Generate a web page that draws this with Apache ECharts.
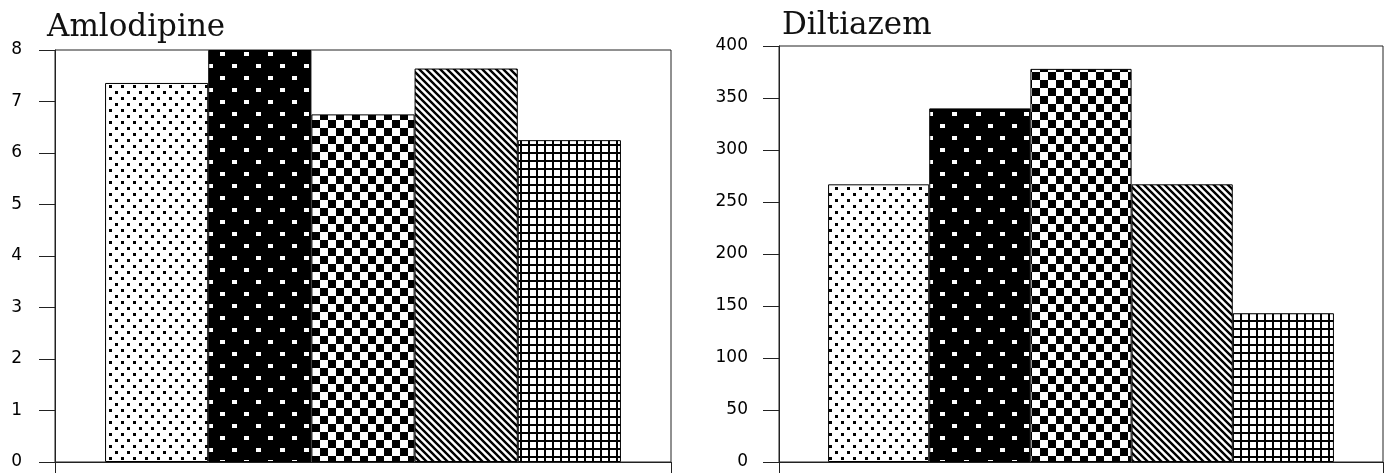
<!DOCTYPE html>
<html>
<head>
<meta charset="utf-8">
<script src="https://cdn.jsdelivr.net/npm/echarts@6/dist/echarts.min.js"></script>
<style>
  html, body { margin: 0; padding: 0; background: #ffffff; }
  #chart { width: 1399px; height: 473px; }
</style>
</head>
<body>
<div id="chart"></div>
<script>
// Panel titles
const panelTitles = ['Amlodipine', 'Diltiazem'];

// One bar per group, drawn side by side in each panel
const groupNames = ['Group 1', 'Group 2', 'Group 3', 'Group 4', 'Group 5'];
const amlodipineValues = [7.36, 8.0, 6.75, 7.64, 6.25];
const diltiazemValues = [267, 340, 378, 267, 143];

// Y-axis ranges and tick steps
const amlodipineAxis = { min: 0, max: 8, interval: 1 };
const diltiazemAxis = { min: 0, max: 400, interval: 50 };

// --- Hatch fills (monochrome print style) ---
function makeTile(w, h, draw) {
  const c = document.createElement('canvas');
  c.width = w; c.height = h;
  const ctx = c.getContext('2d');
  draw(ctx, w, h);
  return { image: c, repeat: 'repeat' };
}

const fills = [
  // fine black dots on white
  makeTile(12, 12, (ctx, w, h) => {
    ctx.fillStyle = '#fff'; ctx.fillRect(0, 0, w, h);
    ctx.fillStyle = '#000';
    ctx.fillRect(1, 1, 3, 3);
    ctx.fillRect(7, 7, 3, 3);
  }),
  // white squares on black
  makeTile(24, 24, (ctx, w, h) => {
    ctx.fillStyle = '#000'; ctx.fillRect(0, 0, w, h);
    ctx.fillStyle = '#fff';
    ctx.fillRect(4, 4, 5, 4);
    ctx.fillRect(16, 16, 5, 4);
  }),
  // checkerboard
  makeTile(16, 16, (ctx, w, h) => {
    ctx.fillStyle = '#fff'; ctx.fillRect(0, 0, w, h);
    ctx.fillStyle = '#000';
    ctx.fillRect(0, 0, 8, 8);
    ctx.fillRect(8, 8, 8, 8);
  }),
  // diagonal stripes running down to the right
  makeTile(7, 7, (ctx, w, h) => {
    ctx.fillStyle = '#fff'; ctx.fillRect(0, 0, w, h);
    ctx.strokeStyle = '#000';
    ctx.lineWidth = 2.4;
    ctx.beginPath();
    for (const o of [-7, 0, 7]) {
      ctx.moveTo(o - 1, -1);
      ctx.lineTo(o + w + 1, h + 1);
    }
    ctx.stroke();
  }),
  // square grid
  makeTile(8, 8, (ctx, w, h) => {
    ctx.fillStyle = '#fff'; ctx.fillRect(0, 0, w, h);
    ctx.fillStyle = '#000';
    ctx.fillRect(0, 0, w, 2);
    ctx.fillRect(0, 0, 2, h);
  })
];

const inkColor = '#222';
const labelFont = { fontFamily: 'DejaVu Sans', fontSize: 17, color: '#000' };

function yAxisFor(gridIndex, range, margin) {
  return {
    type: 'value',
    gridIndex: gridIndex,
    min: range.min, max: range.max, interval: range.interval,
    axisLine: { show: true, lineStyle: { color: inkColor, width: 1 } },
    axisTick: { show: true, inside: false, length: 16, lineStyle: { color: inkColor, width: 1 } },
    axisLabel: Object.assign({ margin: margin }, labelFont),
    splitLine: { show: false }
  };
}

function xAxisFor(gridIndex) {
  return {
    type: 'category',
    gridIndex: gridIndex,
    data: [''],
    boundaryGap: true,
    axisLine: { show: true, lineStyle: { color: inkColor, width: 1 } },
    axisTick: { show: true, inside: false, length: 11, lineStyle: { color: inkColor, width: 1 } },
    axisLabel: { show: false },
    splitLine: { show: false }
  };
}

function seriesFor(gridIndex, values) {
  return values.map((v, i) => ({
    type: 'bar',
    name: groupNames[i],
    xAxisIndex: gridIndex,
    yAxisIndex: gridIndex,
    data: [v],
    barWidth: '16.75%',
    barGap: '0%',
    itemStyle: { color: fills[i], borderColor: '#000', borderWidth: 1 },
    emphasis: { disabled: true },
    silent: true
  }));
}

const chart = echarts.init(document.getElementById('chart'), null, { renderer: 'canvas' });

chart.setOption({
  animation: false,
  backgroundColor: '#ffffff',
  title: [
    {
      text: panelTitles[0], left: 42, top: 7,
      textStyle: { fontFamily: 'DejaVu Serif', fontWeight: 'normal', fontSize: 31, color: '#111' }
    },
    {
      text: panelTitles[1], left: 777, top: 5,
      textStyle: { fontFamily: 'DejaVu Serif', fontWeight: 'normal', fontSize: 31, color: '#111' }
    }
  ],
  grid: [
    { left: 55, top: 50, width: 616, height: 412, show: true, borderColor: inkColor, borderWidth: 1, backgroundColor: 'transparent' },
    { left: 779, top: 46, width: 604, height: 416, show: true, borderColor: inkColor, borderWidth: 1, backgroundColor: 'transparent' }
  ],
  xAxis: [xAxisFor(0), xAxisFor(1)],
  yAxis: [yAxisFor(0, amlodipineAxis, 33), yAxisFor(1, diltiazemAxis, 31)],
  series: seriesFor(0, amlodipineValues).concat(seriesFor(1, diltiazemValues))
});
</script>
</body>
</html>
